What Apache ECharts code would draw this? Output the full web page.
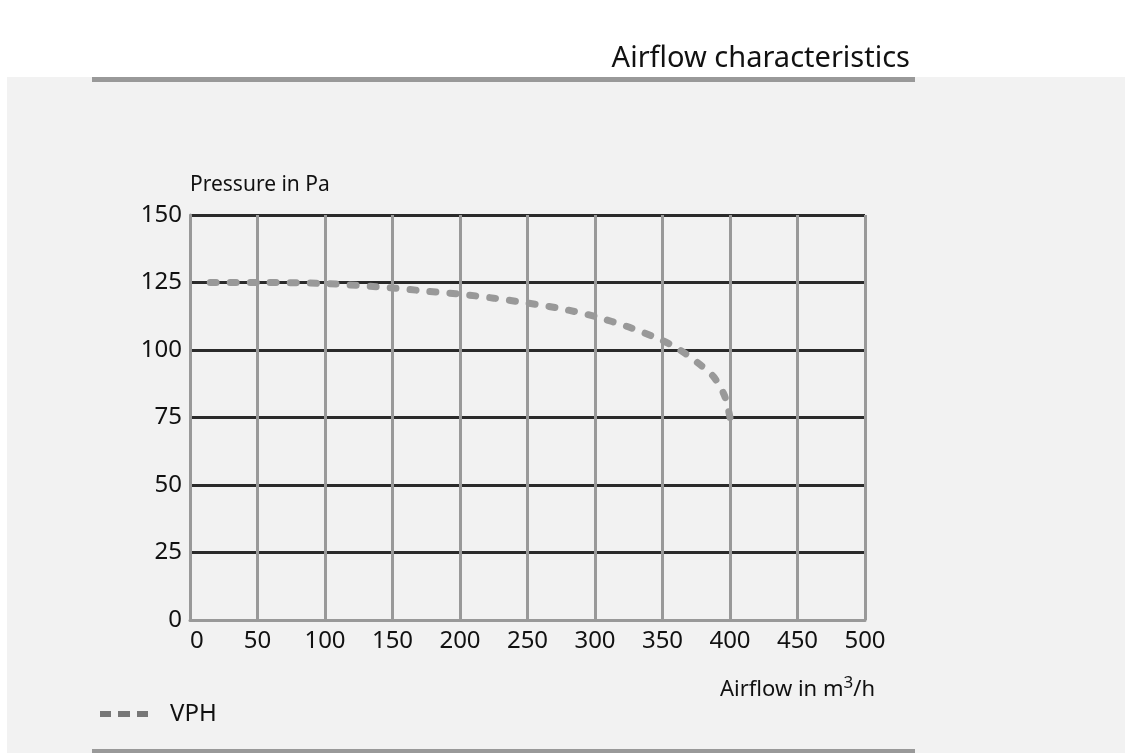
<!DOCTYPE html>
<html>
<head>
<meta charset="utf-8">
<script src="https://cdn.jsdelivr.net/npm/echarts@6/dist/echarts.min.js"></script>
<style>
  html, body { margin: 0; padding: 0; background: #fff; }
  #chart { width: 1125px; height: 753px; }
</style>
</head>
<body>
<div id="chart"></div>
<script>
// values
var airflow  = [15, 50, 100, 150, 175, 200, 225, 250, 275, 300, 325, 350, 363, 378, 388, 396, 400];
var pressure = [125, 125, 124.6, 123, 121.8, 120.7, 119.2, 117.4, 115.3, 112.4, 108.5, 103.5, 100, 94.5, 90, 83, 75];
var seriesName = 'VPH';

var FONT = '"Noto Sans", sans-serif';

var points = [];
for (var i = 0; i < airflow.length; i++) {
    points.push([airflow[i], pressure[i]]);
}

var chart = echarts.init(document.getElementById('chart'));

var option = {
    backgroundColor: '#fff',
    animation: false,
    textStyle: { fontFamily: FONT },
    title: [
        {
            text: 'Airflow characteristics',
            right: 210,
            top: 39,
            textStyle: { fontFamily: FONT, fontSize: 29, fontWeight: 'normal', color: '#111' }
        },
        {
            // x axis title, with superscript
            text: 'Airflow in m{sup|3}/h',
            right: 250,
            top: 675,
            padding: 0,
            textStyle: {
                fontFamily: FONT, fontSize: 22, fontWeight: 'normal', color: '#111',
                rich: {
                    sup: { fontFamily: FONT, fontSize: 17, color: '#111', padding: [0, 0, 12, 0] }
                }
            }
        }
    ],
    graphic: [
        // grey panel
        { type: 'rect', z: -10, shape: { x: 7, y: 77, width: 1118, height: 676 }, style: { fill: '#f2f2f2' } },
        // top rule
        { type: 'rect', z: -5, shape: { x: 92, y: 77, width: 823, height: 5 }, style: { fill: '#999' } },
        // bottom rule
        { type: 'rect', z: -5, shape: { x: 92, y: 749, width: 823, height: 4 }, style: { fill: '#999' } }
    ],
    legend: {
        data: [seriesName],
        left: 95,
        top: 697,
        itemWidth: 48,
        itemHeight: 6,
        icon: 'path://M0,0h11v6h-11z M18,0h12v6h-12z M37,0h11v6h-11z',
        itemStyle: { color: '#777' },
        textStyle: { fontFamily: FONT, fontSize: 24, color: '#111', padding: [0, 0, 0, 17] }
    },
    grid: {
        left: 190,
        right: 260,
        top: 215,
        bottom: 133,
        containLabel: false
    },
    xAxis: {
        type: 'value',
        min: 0,
        max: 500,
        interval: 50,
        axisLine: { show: true, lineStyle: { color: '#999', width: 3 } },
        axisTick: { show: false },
        axisLabel: { fontFamily: FONT, fontSize: 24, color: '#111', margin: 9, alignMinLabel: 'left' },
        splitLine: { show: true, showMinLine: false, lineStyle: { color: '#999', width: 3 } }
    },
    yAxis: {
        type: 'value',
        min: 0,
        max: 150,
        interval: 25,
        name: 'Pressure in Pa',
        nameLocation: 'end',
        nameGap: 30,
        nameTextStyle: { fontFamily: FONT, fontSize: 21, color: '#111', align: 'left', verticalAlign: 'middle' },
        axisLine: { show: true, lineStyle: { color: '#999', width: 3 } },
        axisTick: { show: false },
        axisLabel: { fontFamily: FONT, fontSize: 24, color: '#111', margin: 8 },
        splitLine: { show: true, showMinLine: false, lineStyle: { color: '#2a2a2a', width: 3 } }
    },
    series: [
        {
            name: seriesName,
            type: 'line',
            data: points,
            smooth: 0.3,
            symbol: 'none',
            showSymbol: false,
            z: 5,
            lineStyle: { color: '#999', width: 7, type: [6, 14], cap: 'round' }
        }
    ]
};

chart.setOption(option);
</script>
</body>
</html>
